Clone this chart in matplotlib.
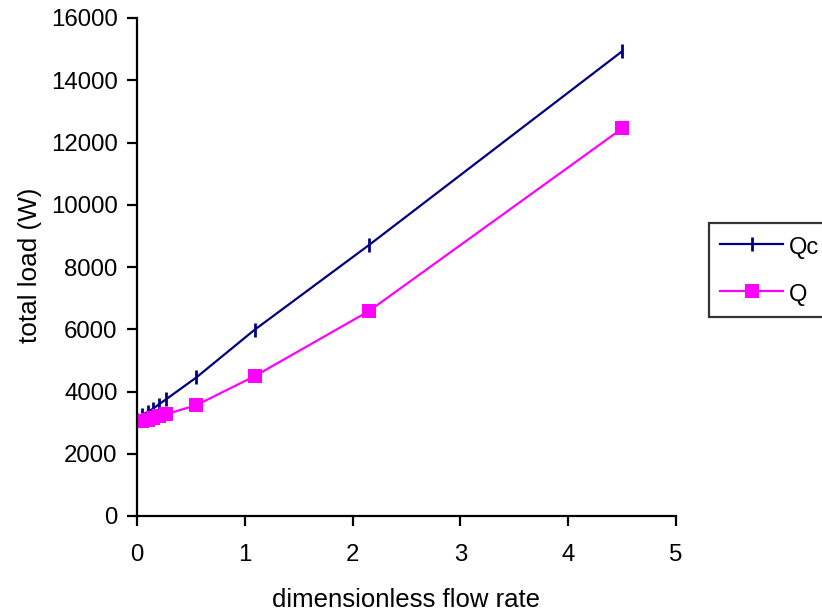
import matplotlib
matplotlib.use("Agg")
import matplotlib.pyplot as plt

plt.rcParams['font.family'] = ['Liberation Sans', 'DejaVu Sans']

x_vals = [0.0, 0.05, 0.1, 0.15, 0.2, 0.27, 0.55, 1.09, 2.15, 4.5]
qc_vals = [3100, 3250, 3350, 3450, 3580, 3750, 4450, 5980, 8700, 14930]
q_vals = [3050, 3060, 3100, 3150, 3200, 3270, 3560, 4490, 6580, 12450]

fig = plt.figure(figsize=(8.22, 6.13), dpi=100)
ax = fig.add_axes([137/822, 97/613, 539/822, 498/613])

ax.plot(x_vals, qc_vals, color='#000080', lw=1.6, marker='|', markersize=10,
        markeredgewidth=2, label='Qc')
ax.plot(x_vals, q_vals, color='#FF00FF', lw=1.6, marker='s', markersize=9.5,
        markeredgewidth=0, label='Q')

ax.set_xlim(0, 5)
ax.set_ylim(0, 16000)
ax.set_xticks(range(0, 6))
ax.set_yticks(range(0, 16001, 2000))
for s in ['top', 'right']:
    ax.spines[s].set_visible(False)
for s in ['left', 'bottom']:
    ax.spines[s].set_linewidth(1.6)
ax.tick_params(direction='out', length=7, width=1.6, labelsize=17.3)
ax.tick_params(axis='y', pad=7)
ax.tick_params(axis='x', pad=13)

ax.set_xlabel('dimensionless flow rate', fontsize=18.5, va='center')
ax.xaxis.set_label_coords(406/822, 1 - 600/613, transform=fig.transFigure)
ax.set_ylabel('total load (W)', fontsize=18.8, va='center')
ax.yaxis.set_label_coords(30/822, 1 - 265/613, transform=fig.transFigure)

leg = ax.legend(loc='upper left', bbox_to_anchor=(709/822, 1 - 223/613),
                bbox_transform=fig.transFigure, frameon=True, fancybox=False,
                edgecolor='black', fontsize=17, handlelength=2.7,
                handleheight=1.2, handletextpad=0.25, borderaxespad=0,
                borderpad=0.45, labelspacing=0.95)
leg.get_frame().set_linewidth(1.6)

fig.savefig('out.png', dpi=100)
